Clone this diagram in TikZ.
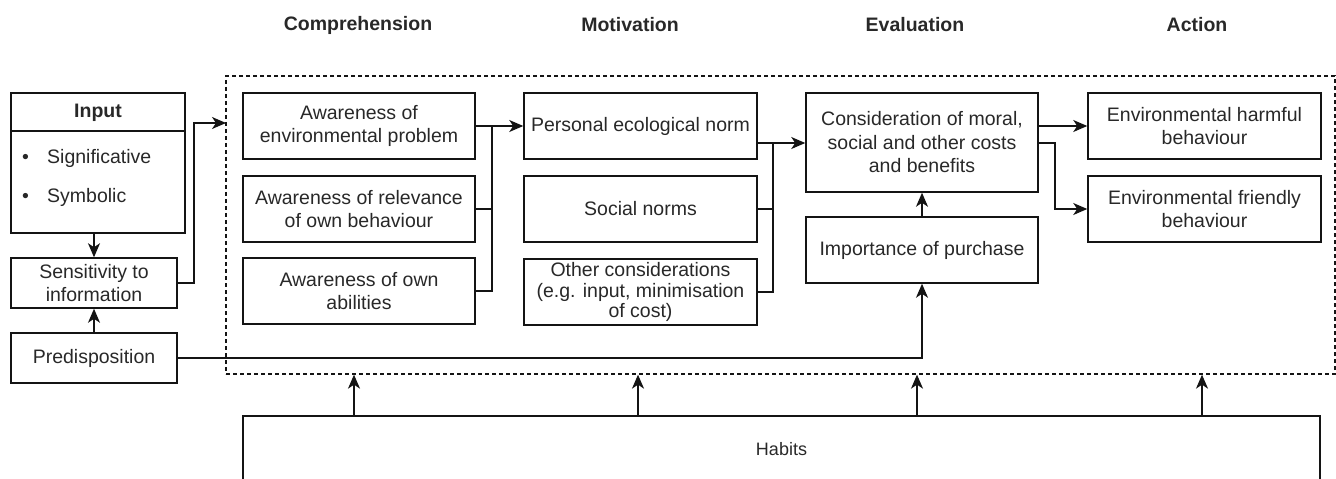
\documentclass[tikz,border=0pt]{standalone}
\usepackage{fontspec}
\setmainfont{Liberation Sans}
\usetikzlibrary{arrows.meta,calc}

\definecolor{ink}{RGB}{20,20,20}
\definecolor{txt}{RGB}{40,40,40}

\tikzset{
  box/.style={draw=ink, line width=1.5pt, rectangle, inner sep=2pt, align=center,
              text=txt, font=\fontsize{19.5}{23.5}\selectfont},
  head/.style={text=txt, font=\fontsize{19.5}{23.5}\selectfont\bfseries, inner sep=0pt},
  plain/.style={text=txt, font=\fontsize{19.5}{23.5}\selectfont, inner sep=0pt},
  wire/.style={draw=ink, line width=1.5pt},
  arr/.style={wire, -{Stealth[length=14pt,width=12pt,inset=4pt]}},
  frame/.style={draw=ink, line width=1.3pt, dash pattern=on 4pt off 3pt, rectangle}
}

\begin{document}
\begin{tikzpicture}[x=1pt, y=-1pt]
\useasboundingbox (0,0) rectangle (1336,479);
\clip (0,0) rectangle (1336,479);

% stage headings
\node[head] (hc) at (358,25) {Comprehension};
\node[head] (hm) at (630,25) {Motivation};
\node[head] (he) at (915,25) {Evaluation};
\node[head] (ha) at (1197,25) {Action};

% dashed frame round the four stages
\node[frame, minimum width=1109pt, minimum height=298pt] (frame) at (780.5,225) {};

% input block with title strip and bullet list
\node[box, minimum width=174pt, minimum height=140pt] (input) at (98,163) {};
\draw[wire] (11,131) -- (185,131);
\node[head] (intitle) at (98,113) {Input};
\node[plain, anchor=west] (b1) at (22,158) {\makebox[25pt][l]{•}Significative};
\node[plain, anchor=west] (b2) at (22,197) {\makebox[25pt][l]{•}Symbolic};

\node[box, minimum width=166pt, minimum height=50pt] (sens) at (94,283) {Sensitivity to\\information};
\node[box, minimum width=166pt, minimum height=50pt] (pred) at (94,358) {Predisposition};

% comprehension
\node[box, minimum width=232pt, minimum height=66pt] (a1) at (359,126) {Awareness of\\environmental problem};
\node[box, minimum width=232pt, minimum height=66pt] (a2) at (359,209) {Awareness of relevance\\of own behaviour};
\node[box, minimum width=232pt, minimum height=66pt] (a3) at (359,291) {Awareness of own\\abilities};

% motivation
\node[box, minimum width=233pt, minimum height=66pt] (m1) at (640.5,126) {Personal ecological norm};
\node[box, minimum width=233pt, minimum height=66pt] (m2) at (640.5,209) {Social norms};
\node[box, minimum width=233pt, minimum height=66pt, font=\fontsize{19.5}{20.5}\selectfont] (m3) at (640.5,292) {Other considerations\\(e.g. input, minimisation\\of cost)};

% evaluation
\node[box, minimum width=232pt, minimum height=99pt] (e1) at (922,142.5) {Consideration of moral,\\social and other costs\\and benefits};
\node[box, minimum width=232pt, minimum height=66pt] (e2) at (922,250) {Importance of purchase};

% action
\node[box, minimum width=233pt, minimum height=66pt] (h1) at (1204.5,126) {Environmental harmful\\behaviour};
\node[box, minimum width=233pt, minimum height=66pt] (h2) at (1204.5,209) {Environmental friendly\\behaviour};

% habits (runs past the lower edge)
\node[box, minimum width=1077pt, minimum height=66pt, font=\fontsize{18}{21}\selectfont] (habits) at (781.5,449) {Habits};

% junction points
\coordinate (fin) at (226,123);
\coordinate (j1) at (492,126);
\coordinate (j2) at (773,143);

% left-hand inputs
\draw[arr] (input.south -| sens.north) -- (sens.north);
\draw[arr] (pred.north) -- (sens.south);
\draw[arr] (sens.east) -- ++(16,0) |- (fin);
\draw[arr] (pred.east) -| (e2.south);

% comprehension -> motivation
\draw[arr] (a1.east) -- (m1.west);
\draw[wire] (a2.east) -| (j1);
\draw[wire] (a3.east) -| (j1);

% motivation -> evaluation
\draw[wire] (m1.east |- j2) -- (j2);
\draw[arr] (j2) -- (e1.west |- j2);
\draw[wire] (m2.east) -| (j2);
\draw[wire] (m3.east) -| (j2);

% evaluation
\draw[arr] (e2.north) -- (e1.south);
\draw[arr] (e1.east |- h1.west) -- (h1.west);
\draw[arr] (e1.east |- j2) -- ++(16,0) |- (h2.west);

% habits act on every stage
\draw[arr] (habits.north -| 354,0) -- (frame.south -| 354,0);
\draw[arr] (habits.north -| 638,0) -- (frame.south -| 638,0);
\draw[arr] (habits.north -| 917,0) -- (frame.south -| 917,0);
\draw[arr] (habits.north -| 1202,0) -- (frame.south -| 1202,0);
\end{tikzpicture}
\end{document}
